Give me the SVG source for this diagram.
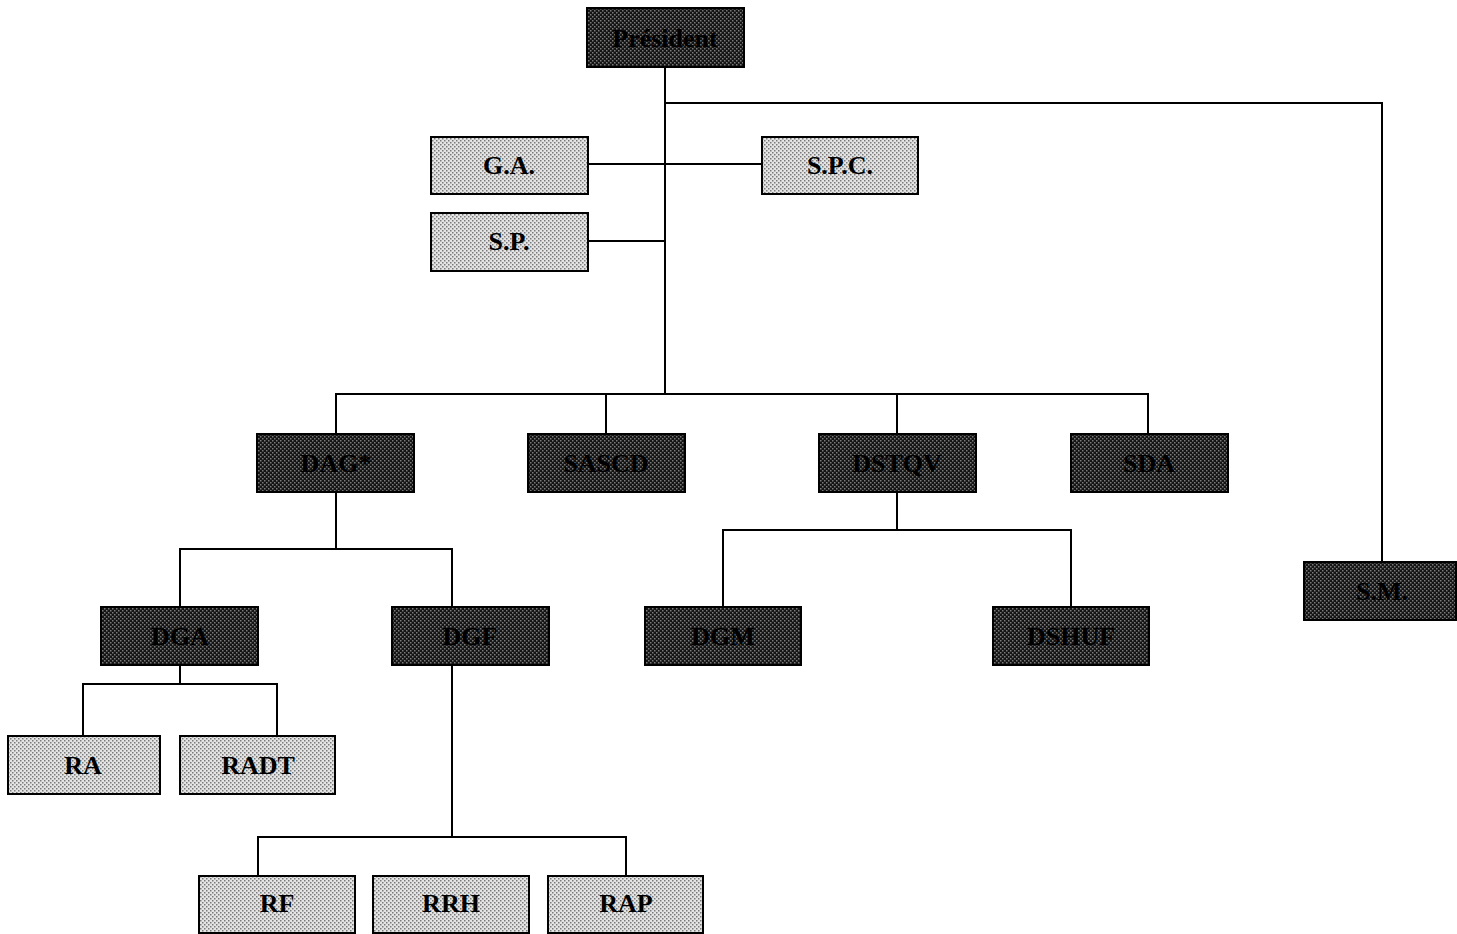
<svg xmlns="http://www.w3.org/2000/svg" width="1457" height="934" viewBox="0 0 1457 934">
  <defs>
    <!-- halftone-style fills for the two box tiers -->
    <pattern id="dotLight" width="4" height="4" patternUnits="userSpaceOnUse">
      <rect width="4" height="4" fill="#e4e4e4"/>
      <rect x="0" y="0" width="1.5" height="1.5" fill="#7a7a7a"/>
      <rect x="2" y="2" width="1.5" height="1.5" fill="#7a7a7a"/>
    </pattern>
    <pattern id="dotDark" width="4" height="4" patternUnits="userSpaceOnUse">
      <rect width="4" height="4" fill="#141414"/>
      <rect x="0" y="0" width="1.5" height="1.5" fill="#7a7a7a"/>
      <rect x="2" y="2" width="1.5" height="1.5" fill="#7a7a7a"/>
    </pattern>
    <style>
      .light { fill: url(#dotLight); stroke: #000; stroke-width: 2; }
      .dark { fill: url(#dotDark); stroke: #000; stroke-width: 2; }
      .lbl { font-family: "Liberation Serif", "Times New Roman", serif; font-size: 26px; font-weight: bold; fill: #000; text-anchor: middle; dominant-baseline: central; }
      .conn { fill: none; stroke: #000; stroke-width: 2; }
    </style>
  </defs>
  <rect width="1457" height="934" fill="#fff"/>

  <g id="connectors" class="conn">
    <path d="M665 67 V394"/>
    <path d="M665 103 H1382 V562"/>
    <path d="M588 164 H762"/>
    <path d="M588 241 H665"/>
    <path d="M336 434 V394 H1148 V434"/>
    <path d="M606 394 V434"/>
    <path d="M897 394 V434"/>
    <path d="M336 492 V549"/>
    <path d="M180 607 V549 H452 V607"/>
    <path d="M180 665 V684"/>
    <path d="M83 736 V684 H277 V736"/>
    <path d="M452 665 V837"/>
    <path d="M258 876 V837 H626 V876"/>
    <path d="M897 492 V530"/>
    <path d="M723 607 V530 H1071 V607"/>
  </g>

  <g id="president"><rect class="dark" x="587" y="8" width="157" height="59"/><text class="lbl" x="665" y="38">Président</text></g>
  <g id="ga"><rect class="light" x="431" y="137" width="157" height="57"/><text class="lbl" x="509" y="165">G.A.</text></g>
  <g id="spc"><rect class="light" x="762" y="137" width="156" height="57"/><text class="lbl" x="840" y="165">S.P.C.</text></g>
  <g id="sp"><rect class="light" x="431" y="213" width="157" height="58"/><text class="lbl" x="509" y="241">S.P.</text></g>
  <g id="dag"><rect class="dark" x="257" y="434" width="157" height="58"/><text class="lbl" x="336" y="463">DAG*</text></g>
  <g id="sascd"><rect class="dark" x="528" y="434" width="157" height="58"/><text class="lbl" x="606" y="463">SASCD</text></g>
  <g id="dstqv"><rect class="dark" x="819" y="434" width="157" height="58"/><text class="lbl" x="897" y="463">DSTQV</text></g>
  <g id="sda"><rect class="dark" x="1071" y="434" width="157" height="58"/><text class="lbl" x="1149" y="463">SDA</text></g>
  <g id="sm"><rect class="dark" x="1304" y="562" width="152" height="58"/><text class="lbl" x="1382" y="591">S.M.</text></g>
  <g id="dga"><rect class="dark" x="101" y="607" width="157" height="58"/><text class="lbl" x="180" y="636">DGA</text></g>
  <g id="dgf"><rect class="dark" x="392" y="607" width="157" height="58"/><text class="lbl" x="470" y="636">DGF</text></g>
  <g id="dgm"><rect class="dark" x="645" y="607" width="156" height="58"/><text class="lbl" x="723" y="636">DGM</text></g>
  <g id="dshuf"><rect class="dark" x="993" y="607" width="156" height="58"/><text class="lbl" x="1071" y="636">DSHUF</text></g>
  <g id="ra"><rect class="light" x="8" y="736" width="152" height="58"/><text class="lbl" x="83" y="765">RA</text></g>
  <g id="radt"><rect class="light" x="180" y="736" width="155" height="58"/><text class="lbl" x="258" y="765">RADT</text></g>
  <g id="rf"><rect class="light" x="199" y="876" width="156" height="57"/><text class="lbl" x="277" y="903">RF</text></g>
  <g id="rrh"><rect class="light" x="373" y="876" width="156" height="57"/><text class="lbl" x="451" y="903">RRH</text></g>
  <g id="rap"><rect class="light" x="548" y="876" width="155" height="57"/><text class="lbl" x="626" y="903">RAP</text></g>
</svg>
